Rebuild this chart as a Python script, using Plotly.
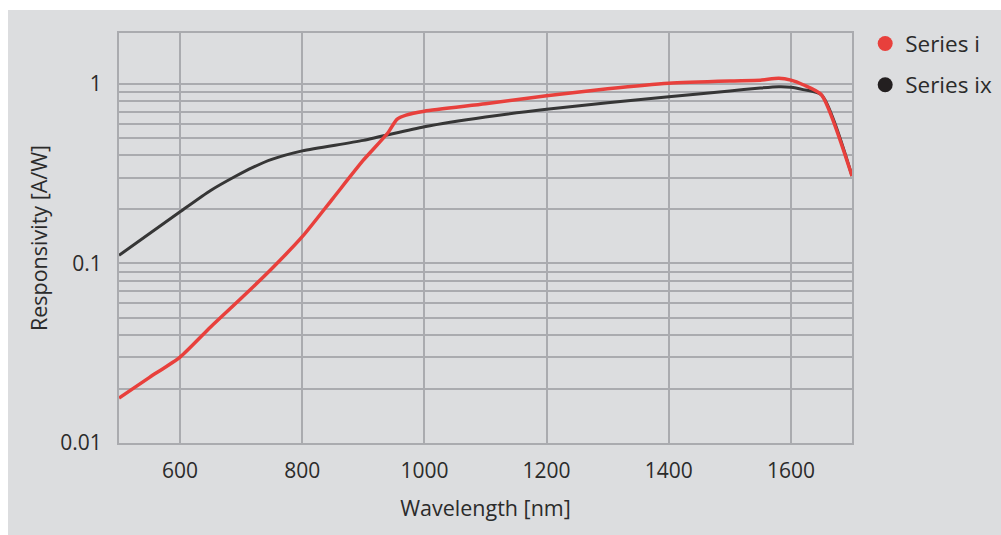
import plotly.graph_objects as go

# ---- data ----
wavelength_i = [500, 550, 600, 650, 700, 750, 800, 850, 900, 940, 955, 970, 1000,
                1100, 1200, 1300, 1400, 1500, 1550, 1580, 1600, 1620, 1650, 1700]
resp_i = [0.0178, 0.0232, 0.0301, 0.0443, 0.064, 0.0935, 0.141, 0.23, 0.376, 0.533,
          0.635, 0.67, 0.705, 0.775, 0.86, 0.94, 1.01, 1.04, 1.05, 1.075, 1.05, 0.99,
          0.87, 0.307]

wavelength_ix = [500, 600, 650, 690, 720, 750, 800, 900, 1000, 1100, 1200, 1300, 1400,
                 1500, 1550, 1580, 1600, 1620, 1650, 1700]
resp_ix = [0.111, 0.194, 0.255, 0.305, 0.344, 0.38, 0.424, 0.485, 0.578, 0.655, 0.723,
           0.785, 0.85, 0.914, 0.95, 0.966, 0.96, 0.93, 0.87, 0.307]

series_names = ["Series i", "Series ix"]
line_colors = ["#e8403c", "#363636"]
legend_colors = ["#e8403c", "#231f20"]

y_tickvals = [0.01, 0.02, 0.03, 0.04, 0.05, 0.06, 0.07, 0.08, 0.09,
              0.1, 0.2, 0.3, 0.4, 0.5, 0.6, 0.7, 0.8, 0.9, 1]
y_ticktext = ["0.01", "", "", "", "", "", "", "", "",
              "0.1", "", "", "", "", "", "", "", "", "1"]
x_tickvals = [600, 800, 1000, 1200, 1400, 1600]

BG = "#dcdddf"
GRID = "#aaabaf"
TXT = "#2b2b2b"
FONT = "Open Sans"

fig = go.Figure()

fig.add_trace(go.Scatter(x=wavelength_ix, y=resp_ix, mode="lines",
                         line=dict(color=line_colors[1], width=3, shape="spline", smoothing=0.7),
                         showlegend=False, hoverinfo="skip"))
fig.add_trace(go.Scatter(x=wavelength_i, y=resp_i, mode="lines",
                         line=dict(color=line_colors[0], width=3.5, shape="spline", smoothing=0.6),
                         showlegend=False, hoverinfo="skip"))

for i, name in enumerate(series_names):
    fig.add_trace(go.Scatter(x=[None], y=[None], mode="markers", name=name,
                             legendgroup=name,
                             marker=dict(color=legend_colors[i], size=15, symbol="circle")))

# gray panel background
fig.add_shape(type="rect", xref="paper", yref="paper",
              x0=(8 - 119) / 733, x1=(1001 - 119) / 733 + 0.01,
              y0=(443 - 540) / 410, y1=(443 - 10) / 410,
              fillcolor=BG, line=dict(width=0), layer="below")

fig.update_layout(
    width=1001, height=535,
    margin=dict(l=119, r=149, t=33, b=92, autoexpand=False),
    paper_bgcolor="white",
    plot_bgcolor=BG,
    font=dict(family=FONT, size=21, color=TXT),
    legend=dict(x=1.018, y=1.026, xanchor="left", yanchor="top",
                font=dict(family=FONT, size=22.5, color=TXT),
                bgcolor="rgba(0,0,0,0)", tracegroupgap=9, traceorder="grouped"),
    xaxis=dict(range=[500, 1700], tickvals=x_tickvals, showgrid=True,
               gridcolor=GRID, gridwidth=1.5, showline=True, linecolor=GRID,
               linewidth=2, mirror=True, zeroline=False,
               ticks="outside", ticklen=8, tickcolor="rgba(0,0,0,0)",
               tickfont=dict(size=21),
               title=dict(text="Wavelength [nm]", font=dict(size=21.5), standoff=18)),
    yaxis=dict(type="log", range=[-2, 0.284], tickvals=y_tickvals, ticktext=y_ticktext,
               showgrid=True, gridcolor=GRID, gridwidth=1.5, showline=True,
               linecolor=GRID, linewidth=2, mirror=True, zeroline=False,
               ticks="outside", ticklen=11, tickcolor="rgba(0,0,0,0)",
               tickfont=dict(size=21),
               title=dict(text="Responsivity [A/W]", font=dict(size=21.5), standoff=7)),
)

fig.write_html("out.html")
